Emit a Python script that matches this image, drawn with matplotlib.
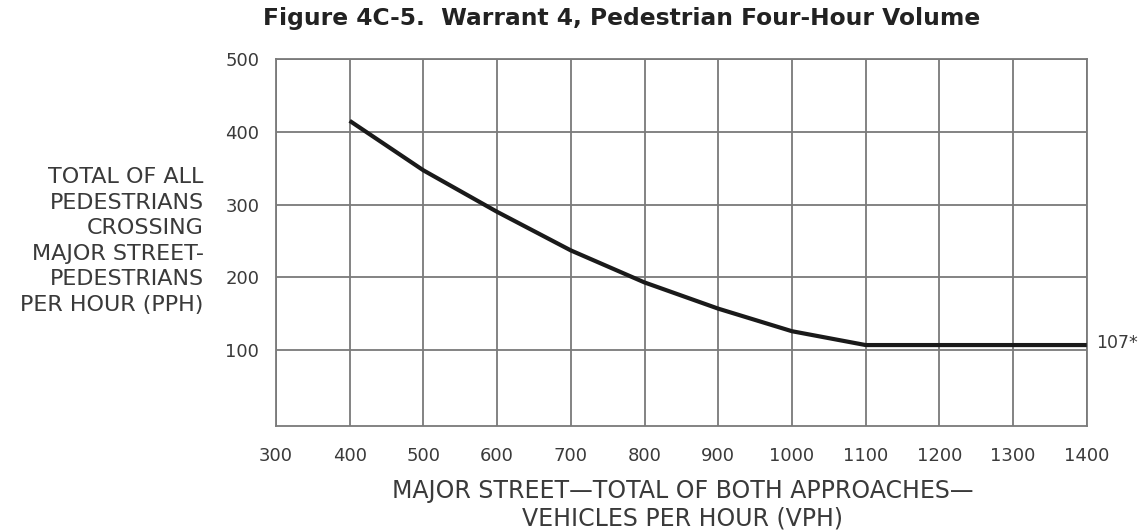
import matplotlib
matplotlib.use("Agg")
import matplotlib.pyplot as plt

major_vph = [400, 500, 600, 700, 800, 900, 1000, 1100, 1400]
ped_pph = [415, 347, 290, 237, 193, 157, 126, 107, 107]
x_ticks = [300, 400, 500, 600, 700, 800, 900, 1000, 1100, 1200, 1300, 1400]
y_ticks = [100, 200, 300, 400, 500]

plt.rcParams['font.family'] = ['DejaVu Sans']
text_c = '#3a3a3a'
grid_c = '#7a7a7a'

fig = plt.figure(figsize=(11.38, 5.31), dpi=100)
ax = fig.add_axes([0.2425, 0.198, 0.7125, 0.691])
ax.set_xlim(300, 1400)
ax.set_ylim(-4, 500)
ax.set_xticks(x_ticks)
ax.set_yticks(y_ticks)
ax.tick_params(length=0, labelsize=13, colors=text_c)
ax.tick_params(axis='x', pad=15)
ax.tick_params(axis='y', pad=12)
ax.grid(True, color=grid_c, linewidth=1.3)
ax.set_axisbelow(True)
for s in ax.spines.values():
    s.set_color(grid_c)
    s.set_linewidth(1.3)

ax.plot(major_vph, ped_pph, color='#1a1a1a', linewidth=3.0, solid_capstyle='butt', zorder=3)
ax.text(1413, ped_pph[-1] + 3, '107*', fontsize=12.5, color=text_c, va='center', ha='left')

fig.text(0.546, 0.966, 'Figure 4C-5.  Warrant 4, Pedestrian Four-Hour Volume',
         ha='center', va='center', fontsize=16.8, fontweight='bold', color='#222222')
fig.text(0.179, 0.546,
         'TOTAL OF ALL\nPEDESTRIANS\nCROSSING\nMAJOR STREET-\nPEDESTRIANS\nPER HOUR (PPH)',
         ha='right', va='center', fontsize=16, color=text_c, linespacing=1.34)
fig.text(0.6, 0.05,
         'MAJOR STREET\u2014TOTAL OF BOTH APPROACHES\u2014\nVEHICLES PER HOUR (VPH)',
         ha='center', va='center', fontsize=17, color=text_c, linespacing=1.2)

fig.savefig('out.png', dpi=100, facecolor='white')
